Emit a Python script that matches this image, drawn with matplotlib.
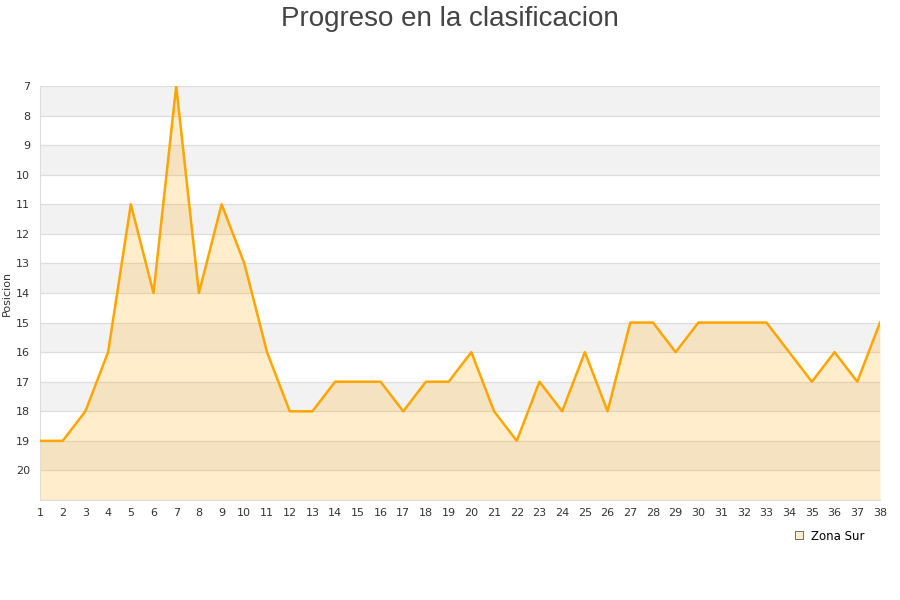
import matplotlib.pyplot as plt

jornadas = list(range(1, 39))
posicion = [19, 19, 18, 16, 11, 14, 7, 14, 11, 13, 16, 18, 18, 17, 17, 17, 18, 17, 17, 16,
            18, 19, 17, 18, 16, 18, 15, 15, 16, 15, 15, 15, 15, 16, 17, 16, 17, 15]
y_ticks = list(range(7, 21))
serie = 'Zona Sur'

fig = plt.figure(figsize=(9, 6), dpi=100)
ax = fig.add_axes([40 / 900, 1 - 500 / 600, 840 / 900, 414 / 600])

# alternating bands between the ticks
for y in range(7, 21, 2):
    ax.axhspan(y, y + 1, color='#F2F2F2', zorder=0, lw=0)
for y in range(7, 22):
    ax.axhline(y, color='#DDDDDD', lw=0.9, zorder=1)

ax.fill_between(jornadas, posicion, 21, color='#FFA500', alpha=0.2, lw=0, zorder=2)
ax.plot(jornadas, posicion, color='#FFA500', lw=1.8, zorder=3, label=serie)

ax.set_xlim(1, 38)
ax.set_ylim(21, 7)
ax.set_xticks(jornadas)
ax.set_yticks(y_ticks)
ax.tick_params(length=0, labelsize=8, colors='#333333', pad=6)
ax.tick_params(axis='y', pad=7)
for s in ['top', 'right']:
    ax.spines[s].set_visible(False)
for s in ['left', 'bottom']:
    ax.spines[s].set_color('#DDDDDD')
ax.set_ylabel('Posicion', fontsize=8, color='#333333')
ax.yaxis.set_label_coords(-0.033, 0.5)

fig.suptitle('Progreso en la clasificacion', fontsize=20, color='#444444', y=0.99,
             family='Liberation Sans')

h = plt.Line2D([], [], marker='s', ls='', markersize=6, markerfacecolor='#FFEDCC',
               markeredgecolor='#555555', markeredgewidth=0.6)
leg = fig.legend([h], [serie], loc='center', bbox_to_anchor=(829 / 900, 1 - 536 / 600),
                 frameon=False, fontsize=8.5, handletextpad=0.5, borderpad=0.2,
                 handlelength=1.0)

fig.savefig('out.png')
